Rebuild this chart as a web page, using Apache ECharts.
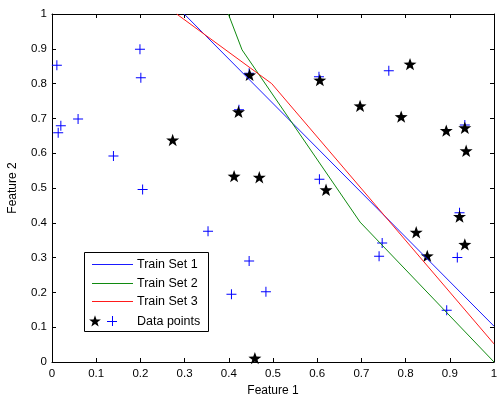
<!DOCTYPE html>
<html><head><meta charset="utf-8">
<script src="https://cdn.jsdelivr.net/npm/echarts@6/dist/echarts.min.js"></script>
<style>html,body{margin:0;padding:0;background:#fff}#c{width:498px;height:398px}</style>
</head><body><div id="c"></div>
<script>
// Decision boundaries
const train1X = [0.299, 1.0];
const train1Y = [1.0, 0.103];
const train2X = [0.399, 0.43, 0.697, 1.0];
const train2Y = [1.0, 0.897, 0.402, 0.0];
const train3X = [0.282, 0.497, 1.0];
const train3Y = [1.0, 0.80, 0.052];
// Data points (stars)
const starX = [0.273,0.422,0.412,0.447,0.469,0.606,0.620,0.810,0.697,0.790,0.892,0.934,0.937,0.459,0.824,0.849,0.922,0.934];
const starY = [0.638,0.719,0.534,0.825,0.531,0.810,0.495,0.856,0.736,0.705,0.665,0.673,0.607,0.011,0.373,0.305,0.418,0.338];
// Data points (plus)
const plusX = [0.011,0.199,0.201,0.059,0.020,0.014,0.139,0.205,0.353,0.446,0.406,0.484,0.605,0.604,0.762,0.934,0.747,0.740,0.922,0.917,0.893,0.423,0.446];
const plusY = [0.853,0.899,0.817,0.698,0.679,0.659,0.592,0.496,0.376,0.290,0.195,0.202,0.525,0.820,0.837,0.681,0.342,0.304,0.429,0.300,0.149,0.725,0.830];
const legendNames = ['Train Set 1','Train Set 2','Train Set 3','Data points'];
const lineColors = ['#1a1aff','#108a10','#ff1a1a'];
const xName = 'Feature 1', yName = 'Feature 2';

const zip = (a,b) => a.map((v,i)=>[v,b[i]]);
const SR = 10, SI = 4;
const STAR_PTS = [];
for (let k=0;k<10;k++){ const a=(-90+36*k)*Math.PI/180, r=(k%2===0)?SR:SI; STAR_PTS.push([+(r*Math.cos(a)).toFixed(2), +(r*Math.sin(a)).toFixed(2)]); }
const STAR = 'path://M' + STAR_PTS.map(p=>p.join(',')).join('L') + 'Z';
const PLUS = 'path://M-0.5,-5L0.5,-5L0.5,-0.5L5,-0.5L5,0.5L0.5,0.5L0.5,5L-0.5,5L-0.5,0.5L-5,0.5L-5,-0.5L-0.5,-0.5Z';
const font = 'Liberation Sans';

const axisCommon = {
  type:'value', min:0, max:1, interval:0.1,
  axisLine:{show:true, onZero:false, lineStyle:{color:'#000', width:1}},
  axisTick:{show:true, inside:true, length:4, lineStyle:{color:'#000'}},
  splitLine:{show:false},
};
const chart = echarts.init(document.getElementById('c'));
const lx = 84, ly = 252, lw = 124, lh = 79;
const rows = [264, 283, 301, 321];
const graphics = [
  {type:'rect', shape:{x:lx+0.5, y:ly+0.5, width:lw, height:lh}, style:{fill:'#fff', stroke:'#000', lineWidth:1}, z:100}
];
for (let i=0;i<3;i++){
  graphics.push({type:'line', shape:{x1:92, y1:rows[i]+0.5, x2:133, y2:rows[i]+0.5}, style:{stroke:lineColors[i], lineWidth:1}, z:101});
}
for (let i=0;i<4;i++){
  graphics.push({type:'text', x:137, y:rows[i]+1, style:{text:legendNames[i], font:'12.5px "'+font+'"', fill:'#000', verticalAlign:'middle'}, z:101});
}
graphics.push({type:'polygon', shape:{points:STAR_PTS.map(p=>[95+p[0]*0.62, rows[3]+0.5+p[1]*0.62])}, style:{fill:'#000'}, z:101});
graphics.push({type:'line', shape:{x1:107, y1:rows[3]+0.5, x2:117, y2:rows[3]+0.5}, style:{stroke:'#0000ff', lineWidth:1}, z:101});
graphics.push({type:'line', shape:{x1:112.5, y1:rows[3]-5, x2:112.5, y2:rows[3]+5}, style:{stroke:'#0000ff', lineWidth:1}, z:101});

chart.setOption({
  animation:false,
  backgroundColor:'#fff',
  textStyle:{fontFamily:font},
  grid:{left:52, right:4, top:14, bottom:36, containLabel:false, outerBoundsMode:'none'},
  xAxis:[
    Object.assign({}, axisCommon, {position:'bottom', name:xName, nameLocation:'middle', nameGap:23,
      nameTextStyle:{color:'#000', fontSize:12, fontFamily:font},
      axisLabel:{color:'#000', fontSize:11.5, margin:6, fontFamily:font}}),
    Object.assign({}, axisCommon, {position:'top', axisLabel:{show:false}})
  ],
  yAxis:[
    Object.assign({}, axisCommon, {position:'left', name:yName, nameLocation:'middle', nameGap:33,
      nameTextStyle:{color:'#000', fontSize:12, fontFamily:font},
      axisLabel:{color:'#000', fontSize:11.5, margin:5, fontFamily:font}}),
    Object.assign({}, axisCommon, {position:'right', axisLabel:{show:false}})
  ],
  graphic: graphics,
  series:[
    {name:legendNames[0], type:'line', data:zip(train1X,train1Y), showSymbol:false, symbol:'none', lineStyle:{color:lineColors[0], width:1}, itemStyle:{color:lineColors[0]}},
    {name:legendNames[1], type:'line', data:zip(train2X,train2Y), showSymbol:false, symbol:'none', lineStyle:{color:lineColors[1], width:1}, itemStyle:{color:lineColors[1]}},
    {name:legendNames[2], type:'line', data:zip(train3X,train3Y), showSymbol:false, symbol:'none', lineStyle:{color:lineColors[2], width:1}, itemStyle:{color:lineColors[2]}},
    {name:'plus', type:'scatter', data:zip(plusX,plusY), symbol:PLUS, symbolSize:10, itemStyle:{color:'#0000ff', opacity:1}},
    {name:legendNames[3], type:'scatter', data:zip(starX,starY), symbol:STAR, symbolSize:13, symbolKeepAspect:true, itemStyle:{color:'#000', opacity:1}}
  ]
});
</script></body></html>
